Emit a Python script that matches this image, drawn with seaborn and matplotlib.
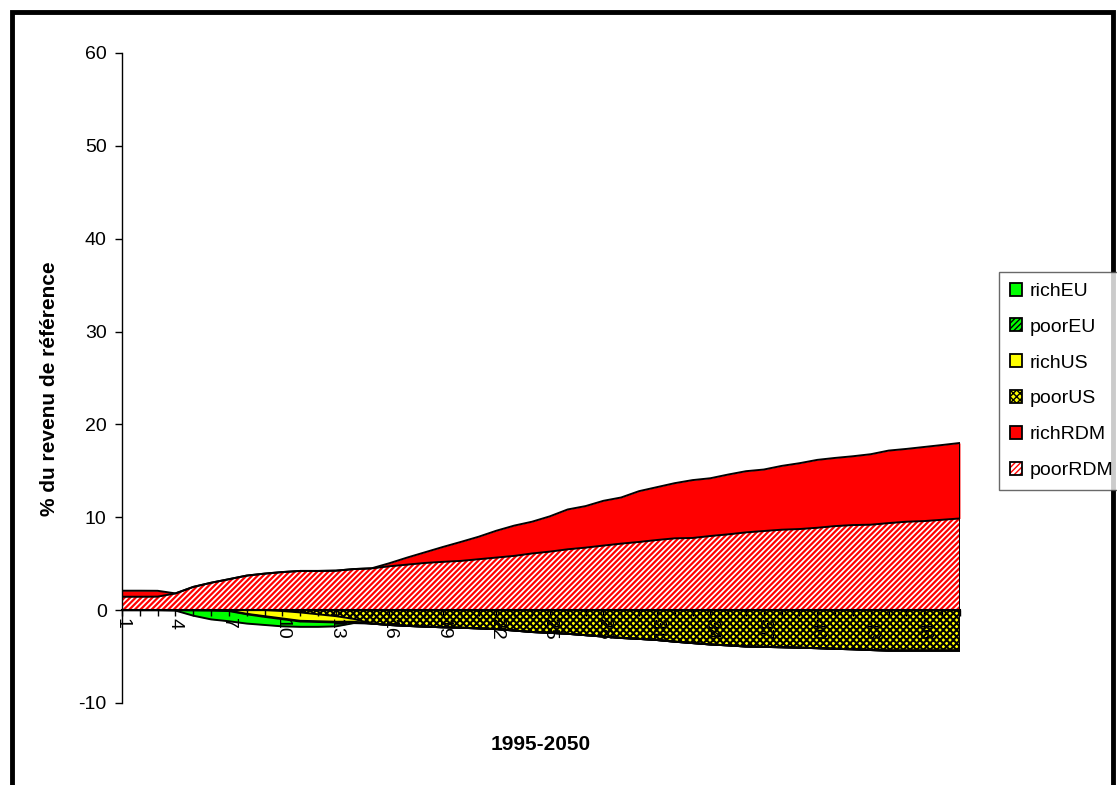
import numpy as np
import pandas as pd
import seaborn as sns
import matplotlib.pyplot as plt
from matplotlib.patches import Patch, Rectangle
from matplotlib.legend_handler import HandlerTuple

# periods 1..48 on the category axis, labels every third one
periods = list(range(1, 49))
shown_labels = [1, 4, 7, 10, 13, 16, 19, 22, 25, 28, 31, 34, 37, 40, 43, 46]
y_ticks = [-10, 0, 10, 20, 30, 40, 50, 60]

# % of reference income
rich_eu = [0, 0, 0, -0.05, -0.58, -0.95, -1.1, -1.0, -0.87, -0.77, -0.57, -0.52,
           -0.42, -0.1] + [0] * 34
poor_eu = [0, 0, 0, 0, -0.02, -0.05, -0.05, -0.05, -0.08, -0.08, -0.08, -0.08,
           -0.08, -0.05] + [0] * 34
rich_us = [0, 0, 0, 0, 0, 0, -0.05, -0.4, -0.65, -0.8, -0.9, -0.75,
           -0.6, -0.3] + [0] * 34
poor_us = [0, 0, 0, 0, 0, 0, 0, 0, 0, -0.1, -0.25, -0.45,
           -0.65, -0.95, -1.45, -1.6, -1.7, -1.78, -1.85, -1.9, -1.97, -2.05, -2.2, -2.36,
           -2.45, -2.55, -2.7, -2.85, -3.0, -3.1, -3.22, -3.4, -3.55, -3.7, -3.8, -3.92,
           -3.96, -4.0, -4.05, -4.1, -4.17, -4.22, -4.3, -4.36, -4.36, -4.36, -4.36, -4.36]
rich_rdm = [0.65, 0.65, 0.63, 0, 0, 0, 0, 0, 0, 0, 0, 0,
            0, 0, 0, 0.33, 0.76, 1.15, 1.6, 2.04, 2.42, 2.89, 3.26, 3.42,
            3.8, 4.29, 4.47, 4.82, 4.97, 5.47, 5.69, 5.94, 6.23, 6.22, 6.44, 6.59,
            6.62, 6.87, 7.09, 7.31, 7.34, 7.41, 7.59, 7.81, 7.84, 7.98, 8.05, 8.13]
poor_rdm = [1.44, 1.44, 1.45, 1.8, 2.5, 2.95, 3.33, 3.72, 3.93, 4.1, 4.22, 4.22,
            4.25, 4.42, 4.5, 4.72, 4.9, 5.08, 5.2, 5.3, 5.48, 5.66, 5.84, 6.1,
            6.3, 6.55, 6.73, 6.95, 7.16, 7.34, 7.55, 7.73, 7.77, 7.98, 8.16, 8.37,
            8.52, 8.66, 8.73, 8.87, 9.05, 9.16, 9.2, 9.37, 9.52, 9.59, 9.73, 9.87]

series = {"richEU": rich_eu, "poorEU": poor_eu, "richUS": rich_us,
          "poorUS": poor_us, "richRDM": rich_rdm, "poorRDM": poor_rdm}
# face colour, hatch, hatch colour, hatch line width
styles = {
    "richEU": ("#00FF00", None, "#00FF00", 1.0),
    "poorEU": ("#00FF00", "//////", "black", 1.0),
    "richUS": ("#FFFF00", None, "#FFFF00", 1.0),
    "poorUS": ("#FFFF00", "xxxxx", "black", 1.5),
    "richRDM": ("#FF0000", None, "#FF0000", 1.0),
    "poorRDM": ("white", "//////", "#FF0000", 1.6),
}

sns.set_style("white", {"axes.edgecolor": "black", "xtick.bottom": True,
                        "ytick.left": True, "xtick.color": "black",
                        "ytick.color": "black", "text.color": "black"})
plt.rcParams["font.family"] = ["Liberation Sans", "DejaVu Sans"]
plt.rcParams["axes.unicode_minus"] = False

fig = plt.figure(figsize=(11.17, 7.85), dpi=100)
ax = fig.add_axes([0.1092, 0.1045, 0.7502, 0.828])

x = np.array(periods)
edges = {}

# negative stack goes down from zero, positive stack goes up
for group in (["poorUS", "richUS", "poorEU", "richEU"], ["poorRDM", "richRDM"]):
    base = np.zeros(len(x))
    for name in group:
        top = base + np.array(series[name])
        face, hatch, hcol, hlw = styles[name]
        with plt.rc_context({"hatch.linewidth": hlw}):
            ax.fill_between(x, base, top, facecolor=face, edgecolor=hcol,
                            hatch=hatch, linewidth=0)
        edges[name] = top
        base = top

bounds = pd.DataFrame(edges)
bounds["period"] = periods
bounds = bounds.melt(id_vars="period", var_name="edge", value_name="value")
sns.lineplot(data=bounds, x="period", y="value", units="edge", estimator=None,
             color="black", linewidth=1.4, legend=False, ax=ax)
ax.vlines(x[-1], edges["richEU"][-1], edges["richRDM"][-1], color="black", linewidth=1.4)

ax.set_xlim(1, 48)
ax.set_ylim(-10, 60)
ax.set_yticks(y_ticks)
ax.set_xticks(periods)
ax.set_xticklabels([str(p) if p in shown_labels else "" for p in periods])
ax.tick_params(axis="x", direction="out", length=4, width=1, pad=2,
               labelrotation=-90, labelsize=14)
ax.tick_params(axis="y", direction="out", length=5, width=1, pad=6, labelsize=14)
ax.set_axisbelow(False)
ax.spines["bottom"].set_position(("data", 0))
ax.spines["bottom"].set_linewidth(1.5)
ax.spines["left"].set_linewidth(1)
ax.spines["top"].set_visible(False)
ax.spines["right"].set_visible(False)
ax.set_xlabel("")
ax.set_ylabel("")

fig.text(50 / 1117, 1 - 389 / 785, "% du revenu de référence", rotation=90,
         ha="center", va="center", fontsize=15, fontweight="bold")
fig.text(541 / 1117, 1 - 745 / 785, "1995-2050", ha="center", va="center",
         fontsize=15, fontweight="bold")

handles = []
for name in series:
    face, hatch, hcol, hlw = styles[name]
    handles.append((Patch(facecolor=face, edgecolor=hcol, hatch=hatch, linewidth=0),
                    Patch(facecolor="none", edgecolor="black", linewidth=1.3)))
leg = fig.legend(handles, list(series), handler_map={tuple: HandlerTuple(ndivide=1, pad=0)},
                 loc="upper left", bbox_to_anchor=(999 / 1117, 1 - 272 / 785),
                 bbox_transform=fig.transFigure, frameon=True, fancybox=False,
                 edgecolor="#444444", fontsize=14, handlelength=0.65, handleheight=0.65,
                 labelspacing=0.95, borderpad=0.55, handletextpad=0.4, borderaxespad=0)
leg.get_frame().set_linewidth(1)

fig.add_artist(Rectangle((12 / 1117, -0.1), (1113 - 12) / 1117, 1.1 - 12 / 785,
                         transform=fig.transFigure, fill=False, edgecolor="black",
                         linewidth=3.5, clip_on=False))

fig.savefig("out.png", dpi=100)
